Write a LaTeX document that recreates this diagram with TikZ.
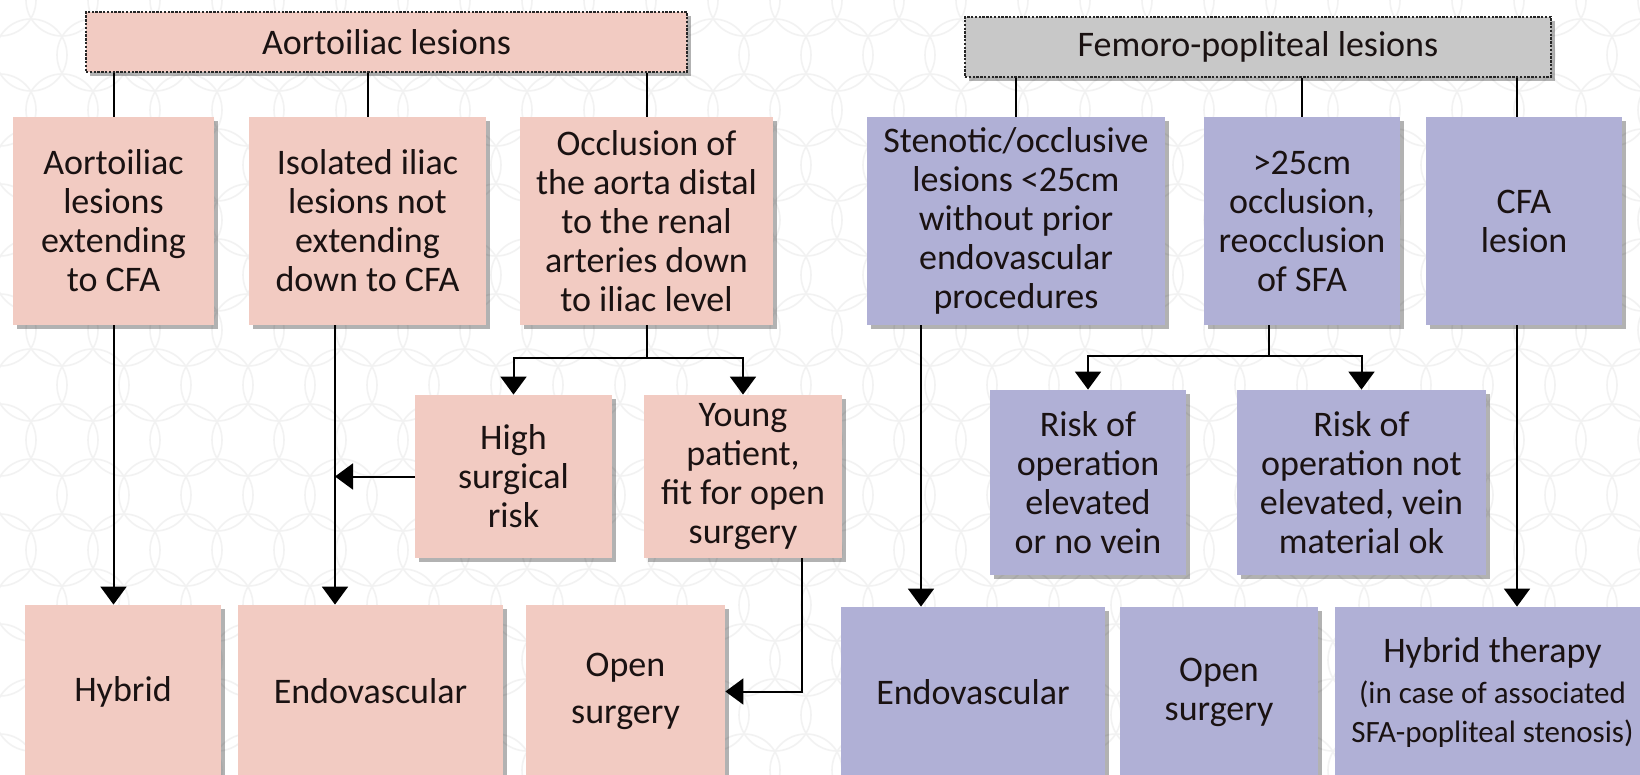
\documentclass[tikz,border=0pt]{standalone}
\usepackage{fontspec}
\setmainfont{Carlito}
\usetikzlibrary{arrows.meta,shadows,calc}

\definecolor{pinkfill}{HTML}{F2CBC2}
\definecolor{lilac}{HTML}{B0B0D6}
\definecolor{headgray}{HTML}{C8C8C8}
\definecolor{ink}{HTML}{1A1212}
\definecolor{swirl}{HTML}{F2F2F2}

% box placed by its corners (left, top, right, bottom), in pixel units
\newcommand\placebox[7]{%
  \node[#2, minimum width={(#5-#3)*0.5pt}, minimum height={(#6-#4)*0.5pt}]
    (#1) at ({(#3+#5)/2},{(#4+#6)/2}) {#7};}
\newcommand\smallsz{\fontsize{15.5}{18}\selectfont}

\tikzset{
  box/.style={draw=none, align=center, inner sep=0pt, text=ink,
    font=\fontsize{18}{19.5}\selectfont,
    drop shadow={shadow xshift=2pt, shadow yshift=-2pt, opacity=0.3, fill=black}},
  pinkbox/.style={box, fill=pinkfill},
  lilacbox/.style={box, fill=lilac},
  headbox/.style={box, draw=black!85, line width=0.7pt,
    dash pattern=on 1.2pt off 0.7pt},
  link/.style={draw=black, line width=1pt},
  arrow/.style={link, -{Triangle[width=13pt,length=9pt]}},
}

\begin{document}
\begin{tikzpicture}[x=0.5pt, y=-0.5pt]
  \useasboundingbox (0,0) rectangle (1640,775);
  \clip (0,0) rectangle (1640,775);
  \fill[white] (0,0) rectangle (1640,775);

  % faint ornamental background
  \foreach \j in {0,...,14} {
    \foreach \i in {0,...,27} {
      \pgfmathsetmacro\xo{\i*62 + mod(\j,2)*31}
      \draw[swirl, line width=0.8pt] (\xo,\j*55) circle[radius=36];
    }
  }

  % ---------- aortoiliac branch ----------
  \placebox{hdA}{headbox, fill=pinkfill}{86}{12}{687}{72}{Aortoiliac lesions}
  \placebox{B1}{pinkbox}{13}{117}{214}{325}{Aortoiliac\\lesions\\extending\\to CFA}
  \placebox{B2}{pinkbox}{249}{117}{486}{325}{Isolated iliac\\lesions not\\extending\\down to CFA}
  \placebox{B3}{pinkbox}{520}{117}{773}{325}{Occlusion of\\the aorta distal\\to the renal\\arteries down\\to iliac level}
  \placebox{high}{pinkbox}{415}{395}{612}{558}{High\\surgical\\risk}
  \placebox{young}{pinkbox}{644}{395}{842}{558}{Young\\patient,\\fit for open\\surgery}
  \placebox{hyb}{pinkbox}{25}{605}{221}{778}{Hybrid}
  \placebox{endo}{pinkbox}{238}{605}{503}{778}{Endovascular}
  \placebox{open}{pinkbox}{526}{605}{725}{778}{Open\\[4pt]surgery}

  % ---------- femoro-popliteal branch ----------
  \placebox{hdF}{headbox, fill=headgray}{965}{17}{1551}{77}{Femoro-popliteal lesions}
  \placebox{S1}{lilacbox}{867}{117}{1165}{325}{Stenotic/occlusive\\lesions <25cm\\without prior\\endovascular\\procedures}
  \placebox{S2}{lilacbox}{1204}{117}{1400}{325}{>25cm\\occlusion,\\reocclusion\\of SFA}
  \placebox{S3}{lilacbox}{1426}{117}{1622}{325}{CFA\\lesion}
  \placebox{R1}{lilacbox}{990}{390}{1186}{575}{Risk of\\operation\\elevated\\or no vein}
  \placebox{R2}{lilacbox}{1237}{390}{1486}{575}{Risk of\\operation not\\elevated, vein\\material ok}
  \placebox{endo2}{lilacbox}{841}{607}{1105}{778}{Endovascular}
  \placebox{open2}{lilacbox}{1120}{607}{1318}{778}{Open\\surgery}
  \placebox{hyb2}{lilacbox}{1335}{607}{1650}{778}{Hybrid therapy\\[1pt]{\smallsz (in case of associated}\\{\smallsz SFA-popliteal stenosis)}}

  % column positions of the off-centre connectors
  \coordinate (c2) at (335,0);
  \coordinate (c8) at (802,0);
  \coordinate (c9) at (921,0);
  \coordinate (c12) at (1269,0);
  \coordinate (c17) at (1517,0);

  % ---------- connectors, aortoiliac ----------
  \draw[link] (hdA.south -| B1.north) -- (B1.north);
  \draw[link] (hdA.south -| B2.north) -- (B2.north);
  \draw[link] (hdA.south -| B3.north) -- (B3.north);
  \draw[arrow] (B1.south) -- (hyb.north -| B1.south);
  \draw[arrow] (B2.south -| c2) -- (endo.north -| c2);
  \draw[arrow] (B3.south) -- ++(0,33) -| (high.north);
  \draw[arrow] (B3.south) -- ++(0,33) -| (young.north);
  \draw[arrow] (high.west) -- (high.west -| c2);
  \draw[arrow] (young.south -| c8) |- (open.east);

  % ---------- connectors, femoro-popliteal ----------
  \draw[link] (hdF.south -| S1.north) -- (S1.north);
  \draw[link] (hdF.south -| S2.north) -- (S2.north);
  \draw[link] (hdF.south -| c17) -- (S3.north -| c17);
  \draw[arrow] (S2.south -| c12) -- ++(0,31) -| (R1.north);
  \draw[arrow] (S2.south -| c12) -- ++(0,31) -| (R2.north);
  \draw[arrow] (S1.south -| c9) -- (endo2.north -| c9);
  \draw[arrow] (S3.south -| c17) -- (hyb2.north -| c17);
\end{tikzpicture}
\end{document}
